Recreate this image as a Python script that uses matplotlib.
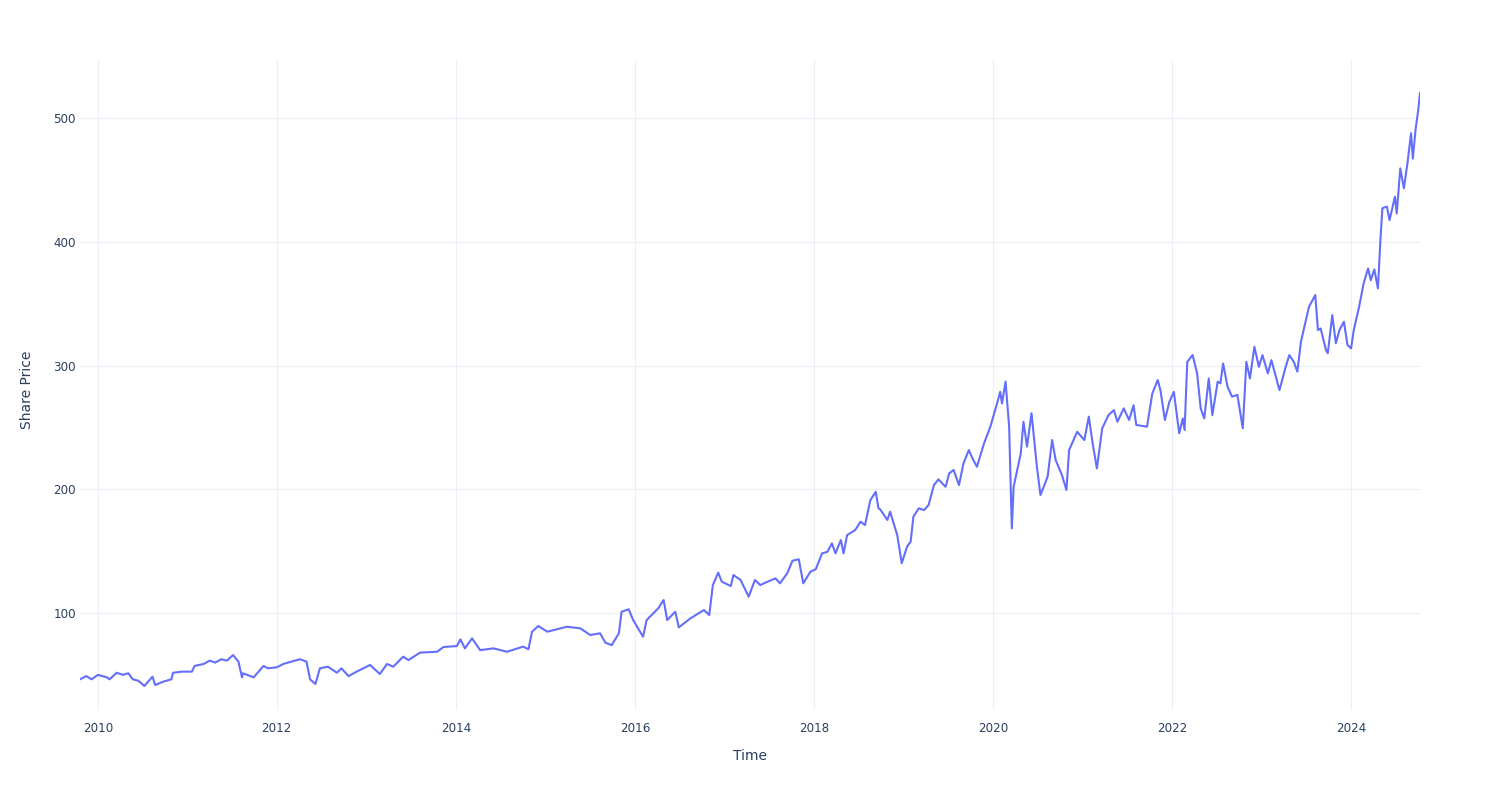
# Share price over time (plotly-like white template look)
import numpy as np
import pandas as pd
import matplotlib
matplotlib.use('Agg')
import matplotlib.pyplot as plt
import matplotlib.dates as mdates

# points (decimal year, price)
year_pos = [
    2009.80, 2009.87, 2009.93, 2010.00, 2010.10, 2010.13, 2010.21, 2010.28, 2010.34, 2010.39,
    2010.45, 2010.52, 2010.56, 2010.61, 2010.64, 2010.73, 2010.82, 2010.84, 2010.94, 2011.05,
    2011.08, 2011.18, 2011.25, 2011.31, 2011.38, 2011.44, 2011.51, 2011.57, 2011.61, 2011.62,
    2011.74, 2011.85, 2011.90, 2012.00, 2012.07, 2012.20, 2012.26, 2012.33, 2012.37, 2012.43,
    2012.48, 2012.57, 2012.67, 2012.72, 2012.80, 2012.89, 2013.04, 2013.15, 2013.23, 2013.30,
    2013.41, 2013.47, 2013.60, 2013.79, 2013.86, 2014.01, 2014.05, 2014.10, 2014.18, 2014.27,
    2014.42, 2014.57, 2014.75, 2014.81, 2014.85, 2014.92, 2015.02, 2015.24, 2015.39, 2015.50,
    2015.61, 2015.67, 2015.74, 2015.82, 2015.85, 2015.93, 2015.98, 2016.09, 2016.13, 2016.26,
    2016.32, 2016.36, 2016.45, 2016.49, 2016.62, 2016.77, 2016.83, 2016.87, 2016.93, 2016.97,
    2017.07, 2017.10, 2017.18, 2017.27, 2017.34, 2017.40, 2017.48, 2017.57, 2017.62, 2017.70,
    2017.76, 2017.83, 2017.88, 2017.96, 2018.02, 2018.09, 2018.15, 2018.20, 2018.24, 2018.30,
    2018.33, 2018.37, 2018.46, 2018.52, 2018.57, 2018.63, 2018.69, 2018.72, 2018.74, 2018.82,
    2018.85, 2018.89, 2018.93, 2018.98, 2019.04, 2019.08, 2019.11, 2019.17, 2019.23, 2019.28,
    2019.34, 2019.39, 2019.47, 2019.51, 2019.56, 2019.62, 2019.67, 2019.73, 2019.77, 2019.82,
    2019.90, 2019.97, 2020.05, 2020.08, 2020.10, 2020.14, 2020.18, 2020.21, 2020.23, 2020.31,
    2020.34, 2020.38, 2020.43, 2020.49, 2020.53, 2020.61, 2020.66, 2020.70, 2020.77, 2020.82,
    2020.85, 2020.94, 2021.02, 2021.07, 2021.11, 2021.16, 2021.22, 2021.29, 2021.35, 2021.39,
    2021.46, 2021.52, 2021.57, 2021.60, 2021.72, 2021.78, 2021.84, 2021.87, 2021.92, 2021.97,
    2022.02, 2022.08, 2022.12, 2022.14, 2022.17, 2022.23, 2022.28, 2022.32, 2022.36, 2022.41,
    2022.45, 2022.51, 2022.54, 2022.57, 2022.62, 2022.67, 2022.73, 2022.79, 2022.83, 2022.87,
    2022.92, 2022.97, 2023.01, 2023.07, 2023.11, 2023.20, 2023.27, 2023.31, 2023.36, 2023.40,
    2023.44, 2023.53, 2023.60, 2023.63, 2023.66, 2023.72, 2023.74, 2023.79, 2023.83, 2023.87,
    2023.92, 2023.96, 2024.00, 2024.03, 2024.09, 2024.14, 2024.19, 2024.22, 2024.26, 2024.30,
    2024.33, 2024.35, 2024.40, 2024.43, 2024.49, 2024.51, 2024.55, 2024.59, 2024.63, 2024.67,
    2024.69, 2024.72, 2024.75, 2024.77,
]
price = [
    46.4, 49.0, 46.4, 50.0, 48.0, 46.4, 51.7, 50.0, 51.3, 46.4,
    45.3, 41.0, 44.5, 48.5, 41.8, 44.5, 46.4, 51.7, 52.6, 52.6,
    57.2, 58.8, 61.5, 59.9, 62.6, 61.5, 66.0, 60.7, 48.0, 51.3,
    48.0, 57.2, 55.3, 56.1, 58.8, 61.5, 62.6, 60.7, 46.4, 42.6,
    55.3, 56.6, 51.7, 55.3, 49.0, 52.6, 58.0, 50.7, 58.8, 56.6,
    64.7, 62.0, 68.0, 68.7, 72.5, 73.3, 78.7, 71.4, 79.5, 70.0,
    71.4, 68.7, 72.8, 70.7, 84.9, 89.5, 84.9, 88.9, 87.6, 82.2,
    83.6, 76.0, 74.0, 83.6, 101.0, 103.0, 94.3, 80.8, 94.3, 103.8,
    110.5, 94.3, 101.0, 88.4, 95.7, 102.4, 98.4, 122.6, 132.6, 125.3,
    121.8, 130.7, 126.7, 113.2, 126.7, 122.6, 125.3, 128.0, 124.0, 132.0,
    142.3, 143.4, 124.0, 133.4, 135.4, 148.2, 149.5, 156.3, 148.2, 159.0,
    148.2, 163.0, 167.0, 173.8, 171.1, 191.3, 198.0, 184.6, 183.7, 175.2,
    181.9, 172.5, 163.0, 140.2, 153.7, 157.7, 177.8, 184.6, 183.2, 187.3,
    203.4, 208.0, 202.0, 212.9, 215.6, 203.4, 221.0, 231.7, 225.0, 218.2,
    237.2, 250.6, 270.7, 278.8, 269.4, 287.0, 250.6, 168.4, 202.0, 229.0,
    254.6, 234.5, 261.5, 218.2, 195.4, 210.2, 239.8, 223.6, 211.5, 199.4,
    231.7, 246.5, 239.8, 258.7, 238.5, 216.9, 249.3, 260.0, 264.0, 254.6,
    265.4, 256.0, 268.0, 252.0, 250.6, 277.6, 288.3, 280.2, 256.0, 270.7,
    278.8, 245.2, 257.3, 247.9, 303.0, 308.5, 293.7, 265.4, 257.3, 289.6,
    260.0, 287.0, 285.6, 301.7, 282.9, 274.9, 276.3, 249.3, 303.0, 289.6,
    315.2, 299.0, 308.5, 293.7, 304.4, 280.2, 299.0, 308.5, 303.0, 295.1,
    319.3, 347.6, 357.0, 328.7, 330.0, 312.5, 310.0, 340.8, 318.0, 328.7,
    335.4, 316.6, 313.9, 328.7, 347.6, 366.4, 378.5, 369.0, 377.7, 362.4,
    404.3, 427.2, 428.5, 417.6, 436.5, 423.0, 459.4, 443.3, 463.5, 487.8,
    467.3, 490.4, 506.5, 520.4,
]
y_ticks = [100, 200, 300, 400, 500]
x_tick_years = [2010, 2012, 2014, 2016, 2018, 2020, 2022, 2024]

# decimal years -> timestamps
t = np.array(year_pos)
dates = pd.to_datetime('2010-01-01') + pd.to_timedelta((t - 2010) * 365.25, unit='D')
df = pd.DataFrame({'Time': dates, 'Share Price': price})

plt.rcParams['font.family'] = ['DejaVu Sans']
txt = '#2a3f5f'
grid = '#ebf0f8'

fig = plt.figure(figsize=(15, 8), dpi=100)
ax = fig.add_axes([80/1500, 90/800, 1340/1500, 650/800])

ax.plot(df['Time'], df['Share Price'], color='#636efa', lw=1.5)

ax.set_xlim(df['Time'].iloc[0], df['Time'].iloc[-1])
ax.set_ylim(21.6, 547)
ax.set_yticks(y_ticks)
ax.set_xticks([pd.Timestamp(f'{y}-01-01') for y in x_tick_years])
ax.xaxis.set_major_formatter(mdates.DateFormatter('%Y'))

ax.grid(True, color=grid, lw=0.8)
ax.set_axisbelow(True)
for s in ax.spines.values():
    s.set_visible(False)
ax.tick_params(length=0, labelsize=8.6, labelcolor=txt)
ax.tick_params(axis='x', pad=9)
ax.tick_params(axis='y', pad=3)

ax.set_xlabel('Time', fontsize=10, color=txt)
ax.set_ylabel('Share Price', fontsize=10, color=txt)
ax.xaxis.set_label_coords(0.5, -46/650)
ax.xaxis.label.set_va('center')
ax.yaxis.set_label_coords(-53/1340, 320/650)
ax.yaxis.label.set_va('center')

fig.savefig('out.png', dpi=100, facecolor='white')
